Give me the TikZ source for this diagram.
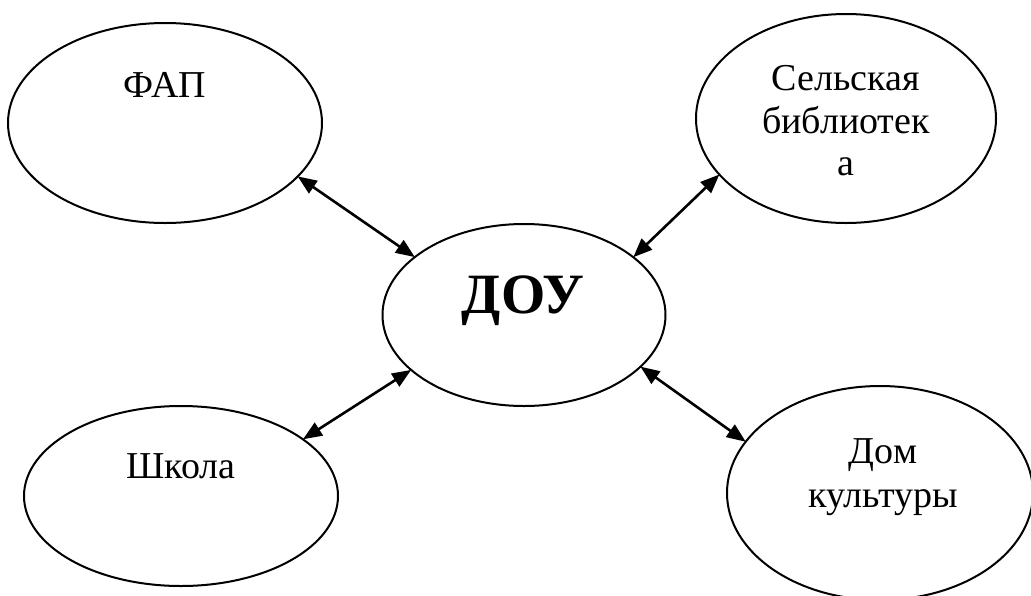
\documentclass[tikz,border=0pt]{standalone}
\usepackage{fontspec}
\setmainfont{Liberation Serif}
\usetikzlibrary{shapes.geometric,arrows.meta}
\tikzset{
  oval/.style={draw, ellipse, line width=2pt, inner sep=0pt},
  lbl/.style={anchor=base, inner sep=0pt, font=\fontsize{38}{45}\selectfont},
  big/.style={anchor=base, inner sep=0pt, font=\fontsize{57}{62}\selectfont\bfseries},
  link/.style={line width=2.6pt, {Triangle[length=19pt,width=15pt]}-{Triangle[length=19pt,width=15pt]}, shorten <=-1pt, shorten >=-1pt}
}
\begin{document}
\begin{tikzpicture}[x=1pt,y=-1pt]
\useasboundingbox (0,0) rectangle (1031,595);
\node[oval, minimum width=314pt, minimum height=200pt] (fap) at (165,123) {};
\node[oval, minimum width=300pt, minimum height=209pt] (lib) at (846,118.5) {};
\node[oval, minimum width=283pt, minimum height=182pt] (dou) at (524,315) {};
\node[oval, minimum width=314pt, minimum height=180pt] (sch) at (181,496) {};
\node[oval, minimum width=306pt, minimum height=214pt] (dk) at (880,493) {};

\node[lbl] (tfap) at (165,97) {ФАП};
\node[lbl] (tlib1) at (846,90) {Сельская};
\node[lbl] (tlib2) at (846,133) {библиотек};
\node[lbl] (tlib3) at (846,175) {а};
\node[big] (tdou) at (523,313) {ДОУ};
\node[lbl] (tsch) at (181,478) {Школа};
\node[lbl] (tdk1) at (883,463) {Дом};
\node[lbl] (tdk2) at (883,507) {культуры};

\draw[link] (fap.-22) -- (dou.152);
\draw[link] (lib.204) -- (dou.28);
\draw[link] (sch.25) -- (dou.206);
\draw[link] (dk.159) -- (dou.-24);
\end{tikzpicture}
\end{document}
